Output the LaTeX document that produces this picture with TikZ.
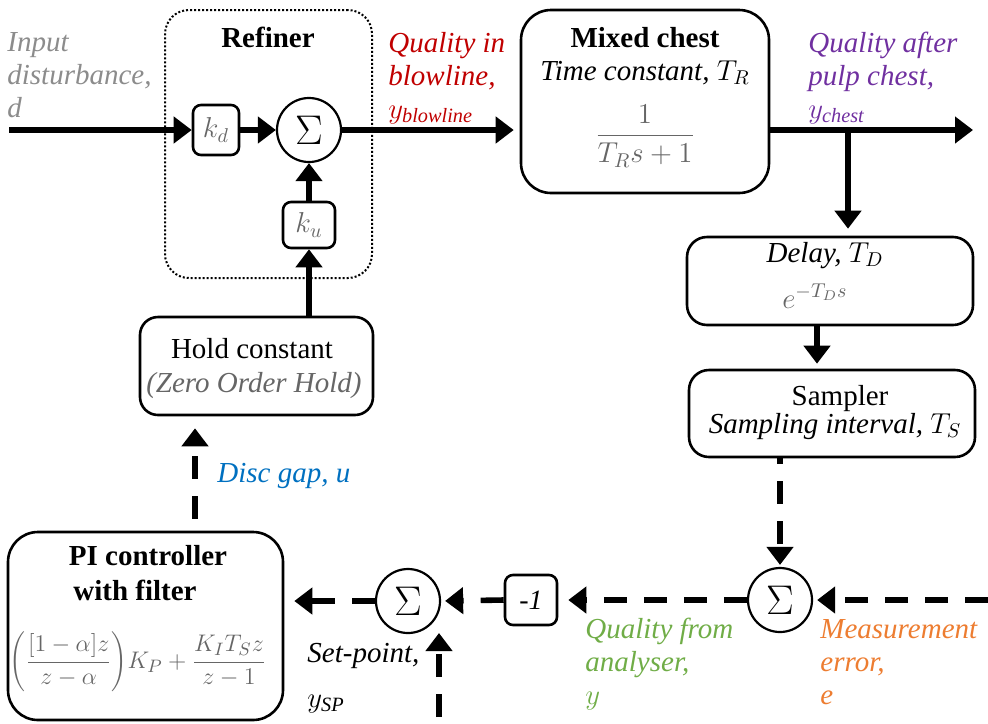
\documentclass[tikz,border=0pt]{standalone}
\usepackage{fontspec}
\setmainfont{Liberation Serif}
\usetikzlibrary{arrows.meta}
\definecolor{lgray}{HTML}{8C8C8C}
\definecolor{mgray}{HTML}{666666}
\definecolor{qred}{HTML}{C00000}
\definecolor{qpurple}{HTML}{7030A0}
\definecolor{qblue}{HTML}{0070C0}
\definecolor{qgreen}{HTML}{70AD47}
\definecolor{qorange}{HTML}{ED7D31}
\begin{document}
\begin{tikzpicture}[x=0.5pt,y=-0.5pt,
  box/.style={draw, line width=1.3pt, inner sep=0pt},
  sumnode/.style={circle, draw, line width=1.1pt, minimum size=32pt, inner sep=0pt,
     font=\fontsize{20}{20}\selectfont},
  txt/.style={font=\fontsize{14.5}{16.5}\selectfont, inner sep=0pt, align=left},
  ctxt/.style={font=\fontsize{14.5}{16.5}\selectfont, inner sep=0pt},
  btxt/.style={font=\fontsize{14.5}{16.5}\selectfont\bfseries, inner sep=0pt},
  flow/.style={line width=2.8pt, -{Triangle[length=9pt,width=13pt]}},
  dflow/.style={flow, dash pattern=on 11.5pt off 8.5pt}
]
\useasboundingbox (0,0) rectangle (988,723);

% ---------- boxes ----------
\node[draw, line width=1pt, dash pattern=on 1pt off 1pt, rounded corners=12pt,
      minimum width=103.5pt, minimum height=134pt] (refiner) at (268.5,144) {};
\node[btxt, anchor=base] (reft) at (268,47) {Refiner};
\node[box, rounded corners=4pt, minimum width=23pt, minimum height=25pt, text=mgray,
      font=\fontsize{14}{16}\selectfont] (kd) at (216,130) {$k_d$};
\node[sumnode] (sum1) at (309,130) {$\Sigma$};
\node[box, rounded corners=4pt, minimum width=26pt, minimum height=23pt, text=mgray,
      font=\fontsize{14}{16}\selectfont] (ku) at (309,225) {$k_u$};

\node[box, rounded corners=15pt, minimum width=124pt, minimum height=91.5pt] (mixed) at (645,101.5) {};
\node[btxt, anchor=base] (mixt) at (645,47) {Mixed chest};
\node[ctxt, anchor=base] (mixtc) at (645,80) {\textit{Time constant,} $T_R$};
\node[ctxt, text=mgray] (mixf) at (645,136) {$\displaystyle\frac{1}{T_R s+1}$};

\node[box, rounded corners=10pt, minimum width=143pt, minimum height=44pt] (delay) at (830,281) {};
\node[ctxt, anchor=base] (delt) at (825,262) {\textit{Delay,} $T_D$};
\node[ctxt, anchor=base, text=mgray] (delf) at (815,308) {$e^{-T_D s}$};

\node[box, rounded corners=10pt, minimum width=143pt, minimum height=43.5pt] (sampler) at (832,413.5) {};
\node[ctxt, anchor=base] (samt) at (840,405) {Sampler};
\node[ctxt, anchor=base] (sami) at (835,433) {\textit{Sampling interval,} $T_S$};

\node[sumnode] (sum2) at (780,600) {$\Sigma$};
\node[box, rounded corners=4pt, minimum width=26pt, minimum height=25pt,
      font=\fontsize{14}{16}\selectfont\itshape] (m1) at (531,600) {-1};
\node[sumnode] (sum3) at (408,601) {$\Sigma$};

\node[box, rounded corners=15pt, minimum width=137.5pt, minimum height=94pt] (pi) at (145.5,626) {};
\node[btxt, anchor=base] (pit1) at (148,565) {PI controller};
\node[btxt, anchor=base] (pit2) at (135,600) {with filter};
\node[ctxt, font=\fontsize{12.3}{14}\selectfont, text=mgray] (pif) at (138,662)
  {$\displaystyle\left(\frac{[1-\alpha]z}{z-\alpha}\right)\!K_P+\frac{K_I T_S z}{z-1}$};

\node[box, rounded corners=9pt, minimum width=116.5pt, minimum height=49pt] (hold) at (256.5,366) {};
\node[ctxt, anchor=base] (holdt) at (252,358) {Hold constant};
\node[ctxt, anchor=base, text=mgray] (holdz) at (254,392) {\textit{(Zero Order Hold)}};

% ---------- labels (anchor = baseline of the last line) ----------
\node[txt, anchor=base west, text=lgray] (lin) at (7,117) {\itshape Input\\ \itshape disturbance,\\ \itshape d};
\node[txt, anchor=base west, text=qred] (lbl) at (388,118) {\itshape Quality in\\ \itshape blowline,\\ $y_{\mathit{blowline}}$};
\node[txt, anchor=base west, text=qpurple] (lch) at (808,118) {\itshape Quality after\\ \itshape pulp chest,\\ $y_{\mathit{chest}}$};
\node[txt, anchor=base west, text=qgreen] (lan) at (585,704) {\itshape Quality from\\ \itshape analyser,\\ $y$};
\node[txt, anchor=base west, text=qorange] (lme) at (820,704) {\itshape Measurement\\ \itshape error,\\ \itshape e};
\node[txt, anchor=base west] (lsp) at (307,707) {\itshape Set-point,\\[6pt] $y_{\mathit{SP}}$};
\node[txt, anchor=base west, text=qblue] (ldg) at (217,482) {\itshape Disc gap, u};

% ---------- coordinates ----------
\coordinate (inS) at (9,130);
\coordinate (outE) at (973,130);
\coordinate (br) at (848,130);
\coordinate (ds) at (817,0);
\coordinate (meS) at (988,600);
\coordinate (spS) at (439,723);
\coordinate (spE) at (439,633);
\coordinate (ug) at (195,0);

% ---------- solid connectors ----------
\draw[flow] (inS) -- (kd.west);
\draw[flow] (kd.east) -- (sum1.west);
\draw[flow] (ku.north) -- (sum1.south);
\draw[flow] (ku.south |- hold.north) -- (ku.south);
\draw[flow, shorten >=3pt] (sum1.east) -- (sum1.east -| mixed.west);
\draw[flow] (outE -| mixed.east) -- (outE);
\draw[flow, shorten >=3.5pt] (br) -- (br |- delay.north);
\draw[flow, shorten >=2.5pt] (ds |- delay.south) -- (ds |- sampler.north);

% ---------- dashed connectors ----------
\draw[dflow, dash phase=-11.5pt, shorten >=1pt] (sum2.north |- sampler.south) -- (sum2.north);
\draw[dflow, shorten >=2pt] (meS) -- (sum2.east);
\draw[dflow, shorten >=5pt] (sum2.west) -- (m1.east);
\draw[dflow, shorten >=2pt] (m1.west) -- (sum3.east);
\draw[dflow, shorten >=5pt] (sum3.west) -- (sum3.west -| pi.east);
\draw[dflow, dash phase=-3pt] (spS) -- (spE);
\draw[dflow, dash phase=-6pt, shorten >=6pt] (ug |- pi.north) -- (ug |- hold.south);
\end{tikzpicture}
\end{document}
